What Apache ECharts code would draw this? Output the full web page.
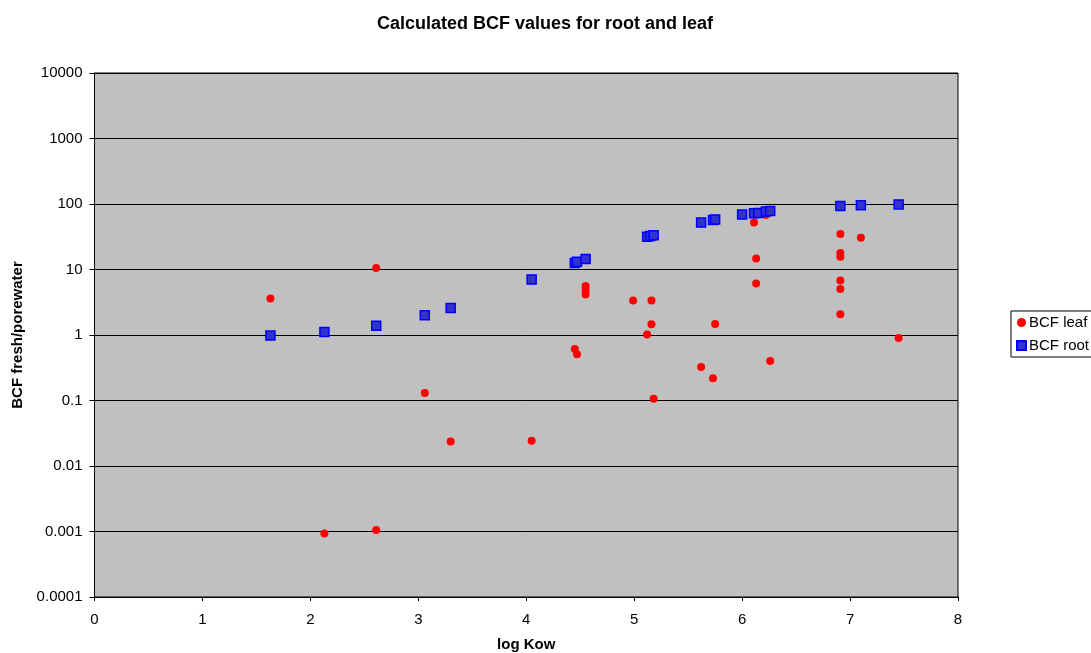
<!DOCTYPE html>
<html>
<head>
<meta charset="utf-8">
<script src="https://cdn.jsdelivr.net/npm/echarts@6/dist/echarts.min.js"></script>
<style>
  html, body { margin: 0; padding: 0; background: #fff; }
  #chart { width: 1091px; height: 653px; }
</style>
</head>
<body>
<div id="chart"></div>
<script>
// BCF leaf: [log Kow, BCF]
const leafPoints = [
  [1.63, 3.6], [2.13, 0.00093], [2.61, 10.5], [2.61, 0.00105], [3.06, 0.13],
  [3.30, 0.0237], [4.05, 0.0243], [4.45, 0.61], [4.47, 0.51], [4.55, 5.6],
  [4.55, 4.8], [4.55, 4.15], [4.99, 3.36], [5.12, 1.02], [5.16, 3.36],
  [5.16, 1.46], [5.18, 0.106], [5.62, 0.324], [5.73, 0.218], [5.75, 1.47],
  [6.11, 52], [6.13, 14.7], [6.13, 6.1], [6.22, 67.7], [6.26, 0.40],
  [6.91, 34.7], [6.91, 17.9], [6.91, 15.6], [6.91, 6.8], [6.91, 5.05],
  [6.91, 2.07], [7.10, 30.4], [7.45, 0.90]
];
// BCF root: [log Kow, BCF]
const rootPoints = [
  [1.63, 0.98], [2.13, 1.11], [2.61, 1.39], [3.06, 2.0], [3.30, 2.59],
  [4.05, 7.03], [4.45, 12.6], [4.47, 13.1], [4.55, 14.5], [5.12, 31.5],
  [5.15, 32.5], [5.18, 33.4], [5.62, 52], [5.73, 57], [5.75, 58],
  [6.00, 69], [6.11, 72], [6.15, 73], [6.22, 77], [6.26, 78],
  [6.91, 93], [7.10, 96], [7.45, 98.6]
];
const seriesNames = ["BCF leaf", "BCF root"];

const FONT = "Liberation Sans, Arial, sans-serif";
const chart = echarts.init(document.getElementById("chart"));
chart.setOption({
  animation: false,
  backgroundColor: "#fff",
  title: {
    text: "Calculated BCF values for root and leaf",
    left: 540, top: 10, textAlign: "center",
    textStyle: { fontFamily: FONT, fontSize: 18, fontWeight: "bold", color: "#000" }
  },
  legend: {
    orient: "vertical", left: 1011, top: 311,
    data: [{ name: seriesNames[0], icon: "circle" }, { name: seriesNames[1], icon: "rect" }],
    itemWidth: 9, itemHeight: 9, itemGap: 8,
    borderColor: "#000", borderWidth: 1, padding: [4, 20, 4, 5],
    backgroundColor: "#fff",
    textStyle: { fontFamily: FONT, fontSize: 15, color: "#000", padding: [0, 0, 0, -2] }
  },
  grid: {
    left: 94.5, right: 133, top: 73, bottom: 56, show: true,
    outerBoundsMode: "none", containLabel: false,
    backgroundColor: "#c0c0c0", borderColor: "#000", borderWidth: 1
  },
  xAxis: {
    type: "value", min: 0, max: 8, interval: 1,
    name: "log Kow", nameLocation: "middle", nameGap: 40,
    nameTextStyle: { fontFamily: FONT, fontSize: 15, fontWeight: "bold", color: "#000" },
    axisLine: { onZero: false, lineStyle: { color: "#000" } },
    axisTick: { show: true, length: 4, lineStyle: { color: "#000" } },
    axisLabel: { fontFamily: FONT, fontSize: 15, color: "#000", margin: 15 },
    splitLine: { show: false }
  },
  yAxis: {
    type: "log", logBase: 10, min: 0.0001, max: 10000, splitNumber: 8,
    name: "BCF fresh/porewater", nameLocation: "middle", nameGap: 68,
    nameTextStyle: { fontFamily: FONT, fontSize: 15, fontWeight: "bold", color: "#000" },
    axisLine: { show: true, lineStyle: { color: "#000" } },
    axisTick: { show: true, length: 5, lineStyle: { color: "#000" } },
    axisLabel: {
      fontFamily: FONT, fontSize: 15, color: "#000", margin: 12,
      formatter: (v) => String(Number(v.toPrecision(1)))
    },
    splitLine: { show: true, lineStyle: { color: "#000", width: 1 } }
  },
  series: [
    {
      name: seriesNames[0], type: "scatter", data: leafPoints,
      symbol: "circle", symbolSize: 8,
      itemStyle: { color: "#ff0000", opacity: 1 }
    },
    {
      name: seriesNames[1], type: "scatter", data: rootPoints,
      symbol: "rect", symbolSize: 9,
      itemStyle: { color: "#3333cc", borderColor: "#0000ff", borderWidth: 1.5, opacity: 1 }
    }
  ]
});
</script>
</body>
</html>
